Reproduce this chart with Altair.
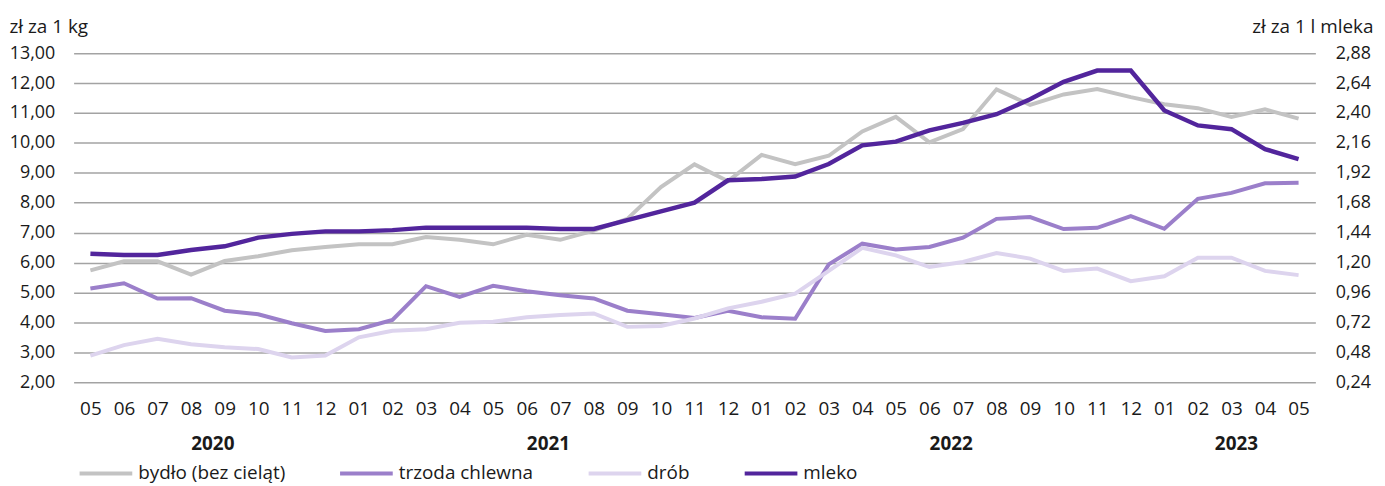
import json
import altair as alt
import pandas as pd

months = ["05", "06", "07", "08", "09", "10", "11", "12",
          "01", "02", "03", "04", "05", "06", "07", "08", "09", "10", "11", "12",
          "01", "02", "03", "04", "05", "06", "07", "08", "09", "10", "11", "12",
          "01", "02", "03", "04", "05"]
years = ["2020"] * 8 + ["2021"] * 12 + ["2022"] * 12 + ["2023"] * 5

# zł za 1 kg
bydlo = [5.74, 6.04, 6.04, 5.60, 6.05, 6.21, 6.41, 6.52, 6.61, 6.61, 6.85, 6.76, 6.61,
         6.93, 6.76, 7.07, 7.46, 8.52, 9.28, 8.72, 9.60, 9.29, 9.57, 10.38, 10.87,
         10.02, 10.46, 11.79, 11.27, 11.62, 11.80, 11.53, 11.29, 11.16, 10.87, 11.12, 10.81]
trzoda = [5.13, 5.31, 4.80, 4.81, 4.39, 4.27, 3.97, 3.71, 3.77, 4.08, 5.21, 4.85, 5.22,
          5.04, 4.91, 4.80, 4.39, 4.27, 4.15, 4.39, 4.17, 4.12, 5.94, 6.63, 6.44,
          6.52, 6.83, 7.46, 7.52, 7.12, 7.16, 7.55, 7.13, 8.13, 8.33, 8.65, 8.67]
drob = [2.89, 3.24, 3.45, 3.27, 3.17, 3.11, 2.83, 2.89, 3.50, 3.72, 3.77, 3.99, 4.02,
        4.17, 4.25, 4.30, 3.85, 3.88, 4.13, 4.47, 4.69, 4.96, 5.72, 6.49, 6.24,
        5.85, 6.02, 6.32, 6.13, 5.72, 5.80, 5.38, 5.54, 6.16, 6.16, 5.72, 5.58]
# zł za 1 l mleka
mleko = [1.27, 1.26, 1.26, 1.30, 1.33, 1.40, 1.43, 1.45, 1.45, 1.46, 1.48, 1.48, 1.48,
         1.48, 1.47, 1.47, 1.54, 1.61, 1.68, 1.86, 1.87, 1.89, 1.99, 2.14, 2.17,
         2.26, 2.32, 2.39, 2.51, 2.65, 2.74, 2.74, 2.42, 2.30, 2.27, 2.11, 2.03]

series_names = ["bydło (bez cieląt)", "trzoda chlewna", "drób", "mleko"]
series_colors = ["#c3c3c3", "#9b7fca", "#ddd4ee", "#52259c"]

left_ticks = list(range(2, 14))
right_ticks = [round(0.24 * k, 2) for k in range(1, 13)]

FONT = "Open Sans"
FS = 19
TFS = 18

rows = []
for name, vals in zip(series_names[:3], [bydlo, trzoda, drob]):
    for i, v in enumerate(vals):
        rows.append({"idx": i, "value": v, "series": name})
left_df = pd.DataFrame(rows)
right_df = pd.DataFrame({"idx": list(range(len(mleko))), "value": mleko,
                         "series": series_names[3]})

year_rows = []
for y in dict.fromkeys(years):
    ids = [i for i, yy in enumerate(years) if yy == y]
    year_rows.append({"year": y, "idx": sum(ids) / len(ids)})
year_df = pd.DataFrame(year_rows)

n = len(months)
x_scale = alt.Scale(domain=[-0.5, n - 0.5], nice=False, zero=False)
x_axis = alt.Axis(values=list(range(n)),
                  labelExpr=json.dumps(months) + "[datum.value]",
                  grid=False, domain=False, ticks=False, tickSize=0,
                  labelPadding=17, labelFontSize=FS, labelColor="#1a1a1a",
                  labelOverlap=False, labelFlush=False, labelAngle=0, title=None)
x_enc = alt.X("idx:Q", scale=x_scale, axis=x_axis)

legend = alt.Legend(orient="none", legendX=4, legendY=394, direction="horizontal",
                    title=None, symbolType="stroke", symbolSize=2809,
                    symbolStrokeWidth=4, labelFontSize=FS, labelColor="#1a1a1a",
                    labelOffset=4, columnPadding=47, padding=0, labelLimit=400)
color = alt.Color("series:N",
                  scale=alt.Scale(domain=series_names, range=series_colors),
                  legend=legend, sort=series_names)

fmt = "replace(format(datum.value, '.2f'), '.', ',')"

left = alt.Chart(left_df).mark_line(strokeWidth=4).encode(
    x=x_enc,
    y=alt.Y("value:Q",
            scale=alt.Scale(domain=[2, 13], nice=False, zero=False),
            axis=alt.Axis(values=left_ticks, labelExpr=fmt,
                          grid=True, gridColor="#a3a3a3", gridWidth=1.5,
                          domain=False, ticks=False, tickSize=0, labelPadding=19,
                          labelFontSize=TFS, labelColor="#1a1a1a",
                          title="zł za 1 kg", titleAngle=0, titleX=-65, titleY=-21,
                          titleAlign="left", titleBaseline="alphabetic",
                          titleFontSize=FS, titleFontWeight="normal",
                          titleColor="#1a1a1a")),
    color=color,
    detail="series:N",
)

right = alt.Chart(right_df).mark_line(strokeWidth=4.5).encode(
    x=x_enc,
    y=alt.Y("value:Q",
            scale=alt.Scale(domain=[0.24, 2.88], nice=False, zero=False),
            axis=alt.Axis(orient="right", values=right_ticks, labelExpr=fmt,
                          grid=False, domain=False, ticks=False, tickSize=0,
                          labelPadding=20, labelFontSize=TFS, labelColor="#1a1a1a",
                          title="zł za 1 l mleka", titleAngle=0, titleX=58, titleY=-21,
                          titleAlign="right", titleBaseline="alphabetic",
                          titleFontSize=FS, titleFontWeight="normal",
                          titleColor="#1a1a1a")),
    color=color,
)

year_text = alt.Chart(year_df).mark_text(
    fontSize=FS, fontWeight="bold", baseline="alphabetic", align="center",
    color="#1a1a1a", dx=5
).encode(
    x=x_enc,
    y=alt.value(399),
    text="year:N",
)

chart = alt.layer(left, right, year_text).resolve_scale(
    y="independent"
).properties(
    width=1249, height=331,
    autosize=alt.AutoSizeParams(type="none"),
    padding={"left": 66, "top": 44, "right": 62, "bottom": 103},
    background="white",
).configure(font=FONT).configure_view(stroke=None)

chart.save("out.html", embed_options={"renderer": "svg", "actions": False})
